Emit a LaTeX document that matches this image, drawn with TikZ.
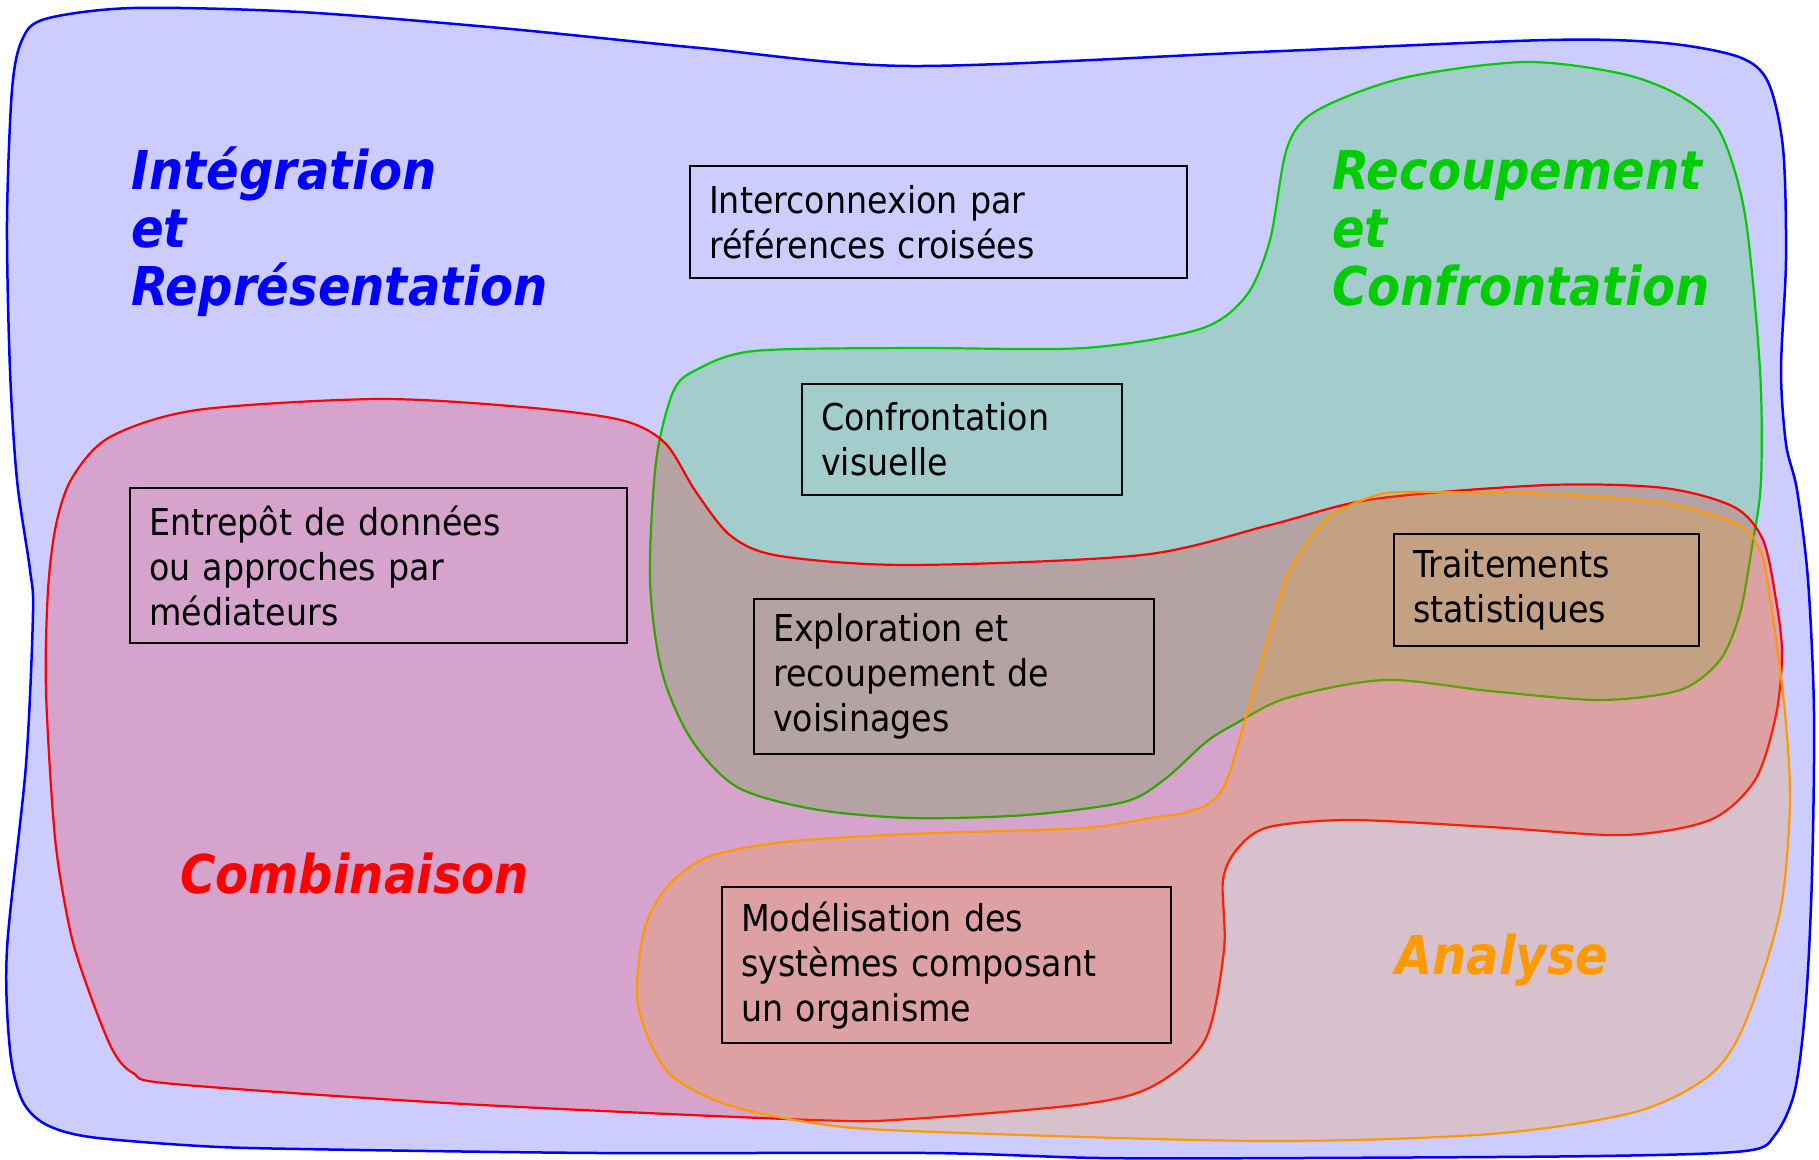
\documentclass[tikz,border=0pt]{standalone}
\usepackage{fontspec}
\setmainfont{DejaVu Sans}[FakeStretch=0.9]
\definecolor{cblue}{HTML}{0000FF}
\definecolor{cpale}{HTML}{CCCCFF}
\definecolor{cgreen}{HTML}{00CC00}
\definecolor{cred}{HTML}{FF0000}
\definecolor{corange}{HTML}{FF9900}
\begin{document}
\begin{tikzpicture}[x=1pt,y=-1pt,
  blob/.style={line width=2.2pt, line join=round},
  box/.style={draw=black, line width=2.2pt, rectangle, anchor=north west,
    align=left, inner xsep=19pt, inner ysep=0pt,
    font=\fontsize{37}{45}\selectfont},
  lab/.style={font=\fontsize{53.5}{58}\selectfont\bfseries\itshape, inner sep=0pt},
]
\useasboundingbox (0,0) rectangle (1819,1159);
\fill[white] (0,0) rectangle (1819,1159);

% Intégration et Représentation
\draw[blob, draw=cblue, fill=cpale, line width=2.5pt] plot[smooth cycle, tension=0.5] coordinates {
  (22,40) (45,19) (133,8) (300,12) (500,28) (700,48) (910,66) (1258,52)
  (1548,40) (1664,43) (1739,57) (1768,82) (1783,148) (1786,259) (1781,370)
  (1786,444) (1797,490) (1808,580) (1814,713) (1812,875) (1806,1000)
  (1795,1090) (1775,1135) (1745,1151) (1600,1156) (1300,1158) (1100,1158)
  (928,1153) (600,1153) (300,1149) (200,1146) (90,1137) (45,1124)
  (22,1100) (10,1050) (7,949) (26,765) (33,613) (30,570) (17,480)
  (10,370) (7,222) (12,90)};

% Recoupement et Confrontation
\draw[blob, draw=cgreen, fill=cgreen, fill opacity=0.2] plot[smooth cycle, tension=0.5] coordinates {
  (1287,148) (1316,111) (1403,78) (1525,62) (1623,74) (1682,97) (1720,132)
  (1745,215) (1760,370) (1761,481) (1752,547) (1740,613) (1720,660)
  (1680,690) (1600,700) (1490,691) (1385,680) (1287,698) (1235,724)
  (1206,742) (1165,779) (1124,802) (1026,815) (910,818) (813,809)
  (737,787) (691,739) (662,672) (650,580) (656,462) (673,392) (696,370)
  (754,351) (910,348) (1084,348) (1200,329) (1246,296) (1270,240)};

% Combinaison
\draw[blob, draw=cred, fill=cred, fill opacity=0.2] plot[smooth cycle, tension=0.5] coordinates {
  (72,478) (110,437) (197,410) (377,399) (522,407) (621,420) (665,443)
  (696,492) (731,536) (780,556) (910,565) (1142,555) (1270,525) (1374,499)
  (1548,485) (1664,488) (1734,507) (1763,540) (1776,600) (1782,653)
  (1776,715) (1755,780) (1710,820) (1623,835) (1490,827) (1351,820)
  (1269,827) (1238,848) (1223,880) (1224,950) (1205,1040) (1153,1086)
  (1084,1104) (910,1119) (813,1120) (464,1104) (174,1084) (133,1073)
  (112,1049) (87,986) (70,930) (55,838) (46,691) (48,590) (56,525)};

% Analyse
\draw[blob, draw=corange, fill=corange, fill opacity=0.2] plot[smooth cycle, tension=0.5] coordinates {
  (1290,570) (1328,518) (1374,496) (1409,492) (1548,494) (1664,503)
  (1739,525) (1760,550) (1768,585) (1777,647) (1785,713) (1790,802)
  (1780,912) (1745,1023) (1710,1075) (1635,1112) (1490,1134) (1258,1141)
  (910,1131) (813,1123) (725,1104) (667,1071) (638,1005) (644,931)
  (667,887) (708,857) (784,842) (910,834) (1084,828) (1150,818)
  (1183,813) (1210,803) (1227,780) (1245,720) (1269,635)};

% domain names
\node[lab, text=cblue, anchor=north west, align=left] (integ) at (131,144)
  {\rule{0pt}{45pt}Intégration\\et\\Représentation};
\node[lab, text=cgreen, anchor=north west, align=left] (recoup) at (1332,144)
  {\rule{0pt}{45pt}Recoupement\\et\\Confrontation};
\node[lab, text=cred, anchor=base west] (combi) at (180,893) {Combinaison};
\node[lab, text=corange, anchor=base west] (analy) at (1395,974) {Analyse};

% approaches
\node[box, text width=459pt, minimum height=112pt] (inter) at (689,165)
  {Interconnexion par\\références croisées};
\node[box, text width=282pt, minimum height=111pt] (visu) at (801,383)
  {Confrontation\\visuelle};
\node[box, text width=459pt, minimum height=155pt] (entre) at (129,487)
  {Entrepôt de données\\ou approches par\\médiateurs};
\node[box, text width=362pt, minimum height=155pt] (explo) at (753,598)
  {Exploration et\\recoupement de\\voisinages};
\node[box, text width=267pt, minimum height=112pt] (trait) at (1393,533)
  {Traitements\\statistiques};
\node[box, text width=411pt, minimum height=156pt] (model) at (721,886)
  {Modélisation des\\systèmes composant\\un organisme};
\end{tikzpicture}
\end{document}
